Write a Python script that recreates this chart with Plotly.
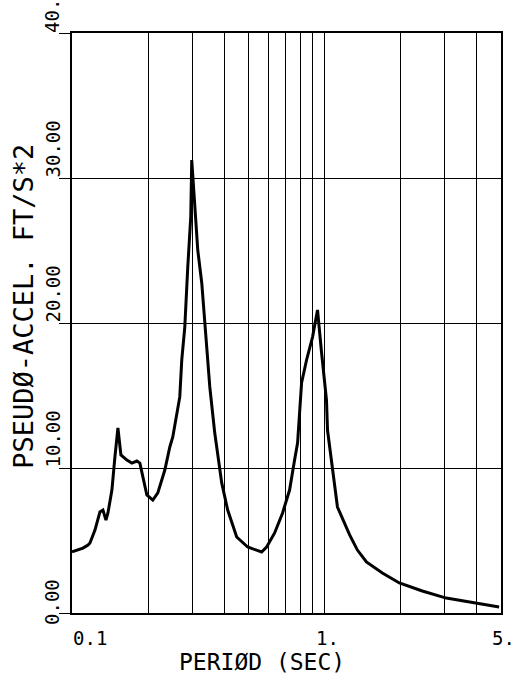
import numpy as np
import plotly.graph_objects as go

# Data (period in seconds, pseudo-acceleration ft/s^2)
period = [0.1, 0.1105, 0.1157, 0.1178, 0.1233, 0.1290, 0.1326, 0.1363, 0.1388, 0.1439,
          0.1479, 0.1520, 0.1562, 0.1650, 0.1726, 0.1806, 0.1857, 0.1908, 0.1979, 0.2090,
          0.2187, 0.2331, 0.2440, 0.2507, 0.2600, 0.2672, 0.2721, 0.2797, 0.2874, 0.2953,
          0.2980, 0.3063, 0.3148, 0.3265, 0.3356, 0.3513, 0.3676, 0.3778, 0.3917, 0.4136,
          0.4490, 0.4963, 0.5385, 0.5636, 0.5898, 0.6345, 0.6823, 0.7272, 0.7611, 0.7822,
          0.8112, 0.8490, 0.8966, 0.9383, 0.9730, 1.0183, 1.028, 1.0756, 1.1254, 1.2562,
          1.350, 1.4655, 1.695, 1.979, 2.44, 3.035, 3.88, 4.917]
accel = [4.21, 4.48, 4.69, 4.83, 5.72, 6.97, 7.10, 6.41, 6.90, 8.48,
         10.76, 12.76, 10.90, 10.55, 10.34, 10.48, 10.34, 9.38, 8.14, 7.79,
         8.28, 9.86, 11.45, 12.14, 13.79, 14.90, 17.45, 19.72, 23.86, 27.31,
         31.24, 28.0, 25.03, 22.76, 20.0, 15.59, 12.41, 10.76, 8.97, 7.10,
         5.24, 4.55, 4.34, 4.21, 4.55, 5.52, 6.90, 8.48, 10.55, 11.72,
         15.86, 17.45, 19.03, 20.90, 18.0, 14.69, 12.6, 9.86, 7.31, 5.4,
         4.34, 3.52, 2.76, 2.07, 1.52, 1.03, 0.69, 0.41]

x_grid = [0.1, 0.2, 0.3, 0.4, 0.5, 0.6, 0.7, 0.8, 0.9, 1, 2, 3, 4, 5]
x_label_vals = [0.1, 1, 5]
x_label_text = ["0.1", "1.", "5."]
y_ticks = [0, 10, 20, 30, 40]
y_label_text = ["0.00", "10.00", "20.00", "30.00", "40."]

FONT = "DejaVu Sans Mono"

fig = go.Figure()
fig.add_trace(go.Scatter(x=period, y=accel, mode="lines",
                         line=dict(color="black", width=3), showlegend=False))

annotations = []
x_anchor = ["left", "center", "center"]
x_shift = [-1, 3, 2]
for v, t, a, s in zip(x_label_vals, x_label_text, x_anchor, x_shift):
    annotations.append(dict(x=np.log10(v), xref="x", y=0, yref="paper", text=t,
                            showarrow=False, xanchor=a, yanchor="top", xshift=s, yshift=-12,
                            font=dict(family=FONT, size=19, color="black")))
for v, t in zip(y_ticks, y_label_text):
    annotations.append(dict(x=0, xref="paper", y=v, yref="y", text=t, textangle=-90,
                            showarrow=False, xanchor="center", yanchor="bottom",
                            xshift=-20, yshift=(-14 if v == 0 else -2),
                            font=dict(family=FONT, size=19, color="black")))
annotations.append(dict(x=0, xref="paper", y=0.528, yref="paper", text="PSEUDØ-ACCEL. FT/S*2",
                        textangle=-90, showarrow=False, xanchor="center", yanchor="middle",
                        xshift=-48, font=dict(family=FONT, size=27, color="black")))
annotations.append(dict(x=0.444, xref="paper", y=0, yref="paper", text="PERIØD (SEC)",
                        showarrow=False, xanchor="center", yanchor="middle",
                        yshift=-49, font=dict(family=FONT, size=23, color="black")))

fig.update_layout(
    width=517, height=681,
    margin=dict(l=72, r=16, t=33, b=68),
    paper_bgcolor="white", plot_bgcolor="white",
    xaxis=dict(type="log", range=[np.log10(0.1), np.log10(5)], tickvals=x_grid,
               showticklabels=False, showgrid=True, gridcolor="black", gridwidth=1,
               showline=True, linecolor="black", linewidth=1.5, mirror=True,
               ticks="", zeroline=False),
    yaxis=dict(range=[0, 40], tickvals=y_ticks, showticklabels=False,
               showgrid=True, gridcolor="black", gridwidth=1.2,
               showline=True, linecolor="black", linewidth=1.5, mirror=True,
               ticks="outside", ticklen=11, tickcolor="black", tickwidth=1.2,
               zeroline=False),
    annotations=annotations,
)

fig.write_html("out.html")
